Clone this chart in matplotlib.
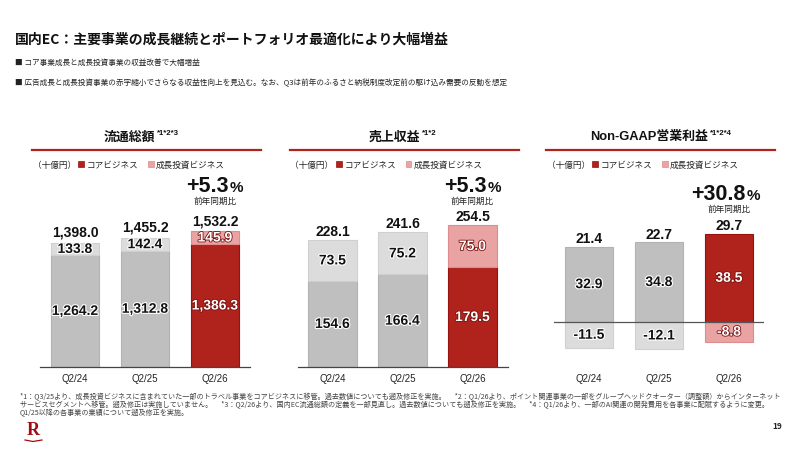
import matplotlib
matplotlib.use('Agg')
import matplotlib.pyplot as plt
from matplotlib.patches import Rectangle
from matplotlib.lines import Line2D
import matplotlib.patheffects as pe

JP = ['Noto Sans CJK JP', 'DejaVu Sans']
NUM = ['Liberation Sans', 'DejaVu Sans']
plt.rcParams['font.family'] = JP

# ---------------- data ----------------
quarters = ['Q2/24', 'Q2/25', 'Q2/26']
gmv_core = [1264.2, 1312.8, 1386.3]
gmv_growth = [133.8, 142.4, 145.9]
gmv_total = [1398.0, 1455.2, 1532.2]
rev_core = [154.6, 166.4, 179.5]
rev_growth = [73.5, 75.2, 75.0]
rev_total = [228.1, 241.6, 254.5]
op_core = [32.9, 34.8, 38.5]
op_growth = [-11.5, -12.1, -8.8]
op_total = [21.4, 22.7, 29.7]
yoy = ['+5.3', '+5.3', '+30.8']
panel_titles = ['流通総額', '売上収益', 'Non-GAAP営業利益']
panel_notes = ['*1*2*3', '*1*2', '*1*2*4']

title = '国内EC：主要事業の成長継続とポートフォリオ最適化により大幅増益'
bullets = ['コア事業成長と成長投資事業の収益改善で大幅増益',
           '広告成長と成長投資事業の赤字縮小でさらなる収益性向上を見込む。なお、Q3は前年のふるさと納税制度改定前の駆け込み需要の反動を想定']
footnotes = [
    '*1：Q3/25より、成長投資ビジネスに含まれていた一部のトラベル事業をコアビジネスに移管。過去数値についても遡及修正を実施。　 *2：Q1/26より、ポイント関連事業の一部をグループヘッドクオーター（調整額）からインターネット',
    'サービスセグメントへ移管。遡及修正は実施していません。　 *3：Q2/26より、国内EC流通総額の定義を一部見直し。過去数値についても遡及修正を実施。　 *4：Q1/26より、一部のAI関連の開発費用を各事業に配賦するように変更。',
    'Q1/25以降の各事業の業績について遡及修正を実施。']
unit = '（十億円）'
leg_core = 'コアビジネス'
leg_growth = '成長投資ビジネス'
yoy_label = '前年同期比'

# ---------------- style ----------------
RED, RED_E = '#B0221C', '#98120F'
PINK, PINK_E = '#E9A3A3', '#DE8C8C'
GREY, GREY_E = '#BFBFBF', '#B2B2B2'
LGREY, LGREY_E = '#DCDCDC', '#D0D0D0'

W, H = 800, 452
fig = plt.figure(figsize=(8, 4.52), dpi=100)
fig.patch.set_facecolor('white')

def X(px):
    return px / W

def Y(py):
    return 1 - py / H

# title & bullets
fig.text(X(15), Y(40), title, fontsize=10.0, fontweight='bold', va='center', color='#111111')
fig.text(X(15), Y(63), '■ ' + bullets[0], fontsize=5.5, va='center', color='#222222')
fig.text(X(15), Y(83), '■ ' + bullets[1], fontsize=5.5, va='center', color='#222222')

for i, line in enumerate(footnotes):
    fig.text(X(20), Y(397 + 8 * i), line, fontsize=5.1, va='center', color='#444444')
fig.text(X(777), Y(427), '19', fontsize=6, va='center', ha='center', color='#222222', fontweight='bold')
fig.text(X(33), Y(431), 'R', family=['Liberation Serif', 'DejaVu Serif'], fontsize=13,
         fontweight='bold', color='#A00D12', va='center', ha='center')
fig.add_artist(Line2D([X(25), X(33), X(42)], [Y(441), Y(442.5), Y(441)], color='#A00D12', lw=0.9))

panels = [
    dict(core=gmv_core, growth=gmv_growth, total=gmv_total, ylim=(0, 2232),
         dx=0, hdr_right=155, tot_off=11, yoy_off=40, yoylab_off=31),
    dict(core=rev_core, growth=rev_growth, total=rev_total, ylim=(0, 355.5),
         dx=257.5, hdr_right=420, tot_off=9, yoy_off=34, yoylab_off=25),
    dict(core=op_core, growth=op_growth, total=op_total, ylim=(-19.9, 67),
         dx=514, hdr_right=708, tot_off=8.5, yoy_off=35, yoylab_off=25.5),
]

halo_w = [pe.withStroke(linewidth=1.6, foreground='white')]
halo_d = [pe.withStroke(linewidth=1.2, foreground='#7A1412')]

for k, p in enumerate(panels):
    dx = p['dx']
    # header
    fig.text(X(p['hdr_right']), Y(137), panel_titles[k],
             fontsize=9.3, fontweight='bold', ha='right', va='center', color='#111111',
             family=['Liberation Sans', 'Noto Sans CJK JP'] if k == 2 else JP)
    fig.text(X(p['hdr_right'] + 1.5), Y(133.5), panel_notes[k], fontsize=5.6, fontweight='bold',
             ha='left', va='center', color='#111111', family=NUM)
    fig.add_artist(Line2D([X(32 + dx), X(261 + dx)], [Y(151), Y(151)], color=RED, lw=1.6))
    # legend
    fig.text(X(33 + dx), Y(165), unit, fontsize=6.2, va='center', color='#222222')
    fig.add_artist(Rectangle((X(78 + dx), Y(168)), 6 / W, 6 / H, facecolor=RED,
                             edgecolor=RED_E, lw=0.5, transform=fig.transFigure))
    fig.text(X(87 + dx), Y(165), leg_core, fontsize=6.2, va='center', color='#222222')
    fig.add_artist(Rectangle((X(148 + dx), Y(168)), 6 / W, 6 / H, facecolor=PINK,
                             edgecolor=PINK_E, lw=0.5, transform=fig.transFigure))
    fig.text(X(156 + dx), Y(165), leg_growth, fontsize=6.2, va='center', color='#222222')

    # axes
    ax = fig.add_axes([X(40 + dx), Y(368), 210 / W, 198 / H])
    ax.set_xlim(-0.5, 2.5)
    ax.set_ylim(*p['ylim'])
    xs = list(range(len(quarters)))
    core = p['core']
    growth = p['growth']
    core_fc = [GREY, GREY, RED]
    core_ec = [GREY_E, GREY_E, RED_E]
    gr_fc = [LGREY, LGREY, PINK]
    gr_ec = [LGREY_E, LGREY_E, PINK_E]
    bw = 0.69
    ax.bar(xs, core, width=bw, color=core_fc, edgecolor=core_ec, lw=0.8, zorder=2)
    gbottom = [c if g >= 0 else 0 for c, g in zip(core, growth)]
    ax.bar(xs, growth, bottom=gbottom, width=bw, color=gr_fc, edgecolor=gr_ec, lw=0.8, zorder=2)

    for i in xs:
        dark = (i == 2)
        col = 'white' if dark else '#111111'
        eff = halo_d if dark else halo_w
        ax.text(i, core[i] / 2, f'{core[i]:,.1f}', ha='center', va='center', fontsize=10,
                fontweight='bold', color=col, family=NUM, path_effects=eff, zorder=4)
        ax.text(i, gbottom[i] + growth[i] / 2, f'{growth[i]:,.1f}', ha='center', va='center',
                fontsize=10, fontweight='bold', color=col, family=NUM, path_effects=eff, zorder=4)
        top = max(core[i], core[i] + growth[i])
        ax.annotate(f'{p["total"][i]:,.1f}', (i, top), xytext=(0, p['tot_off']),
                    textcoords='offset pixels', ha='center', va='center', fontsize=10,
                    fontweight='bold', color='#111111', family=NUM)
    # yoy
    i = 2
    top = max(core[i], core[i] + growth[i])
    ax.annotate(yoy[k], (i, top), xytext=(14 if k < 2 else 17, p['yoy_off']),
                textcoords='offset pixels', ha='right', va='baseline', fontsize=15.5,
                fontweight='bold', color='#111111', family=NUM, annotation_clip=False)
    ax.annotate('%', (i, top), xytext=(15 if k < 2 else 18, p['yoy_off']),
                textcoords='offset pixels', ha='left', va='baseline', fontsize=11,
                fontweight='bold', color='#111111', family=NUM, annotation_clip=False)
    ax.annotate(yoy_label, (i, top), xytext=(0, p['yoylab_off']), textcoords='offset pixels',
                ha='center', va='center', fontsize=6.2, color='#222222', annotation_clip=False)

    for s in ['top', 'right', 'left']:
        ax.spines[s].set_visible(False)
    if k == 2:
        ax.spines['bottom'].set_visible(False)
        ax.axhline(0, color='#555555', lw=0.9, zorder=3)
    else:
        ax.spines['bottom'].set_color('#444444')
        ax.spines['bottom'].set_linewidth(0.9)
        ax.spines['bottom'].set_zorder(3)
    ax.set_yticks([])
    ax.set_xticks(xs)
    ax.set_xticklabels(quarters, fontsize=7, family=NUM, color='#222222')
    ax.tick_params(axis='x', length=0, pad=4)
    ax.patch.set_alpha(0)

fig.savefig('out.png', dpi=100)
